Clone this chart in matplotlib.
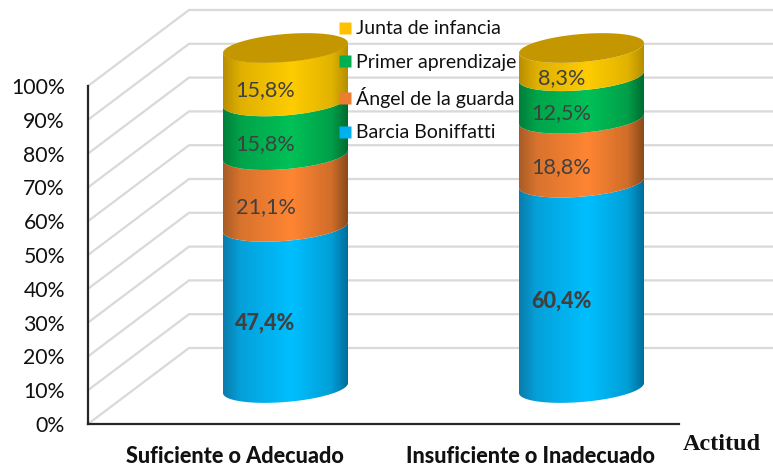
import numpy as np
import matplotlib
matplotlib.use("Agg")
import matplotlib.pyplot as plt
from matplotlib.colors import LinearSegmentedColormap, to_rgb
from matplotlib.lines import Line2D
from matplotlib.patches import Polygon

categories = ["Suficiente o Adecuado", "Insuficiente o Inadecuado"]
series_names = ["Barcia Boniffatti", "Ángel de la guarda", "Primer aprendizaje", "Junta de infancia"]
barcia = [47.4, 60.4]
angel = [21.1, 18.8]
primer = [15.8, 12.5]
junta = [15.8, 8.3]
series_values = [barcia, angel, primer, junta]
y_ticks = [0, 10, 20, 30, 40, 50, 60, 70, 80, 90, 100]

legend_colors = ["#00B0F0", "#ED7D31", "#00B050", "#FFC000"]
# left edge, middle, right edge of each cylinder band
shades = [("#0A7CAC", "#00BFFF", "#006E9A"),
          ("#A85C26", "#FF8533", "#8A4A1A"),
          ("#007F3A", "#00C157", "#006B31"),
          ("#B88E00", "#FFCC00", "#B58E00")]
lid_color = "#C49700"

W, H = 773, 472
fig = plt.figure(figsize=(W / 100, H / 100), dpi=100)
plt.rcParams["font.family"] = ["Lato", "DejaVu Sans"]

# back axes: the walls, real y axis
front_left, front_right, front_bottom, front_top = 88, 679, 424, 86
frame = fig.add_axes([front_left / W, 1 - front_bottom / H,
                      (front_right - front_left) / W, (front_bottom - front_top) / H])
frame.set_xlim(front_left, front_right)
frame.set_ylim(0, 100)
depth_x = 101
depth_y = 76 / 3.38
for v in y_ticks:
    frame.plot([front_left, front_left + depth_x, W], [v, v + depth_y, v + depth_y],
               color="#D9D9D9", lw=1.6, clip_on=False, zorder=1)
for s in ["top", "right"]:
    frame.spines[s].set_visible(False)
for s in ["left", "bottom"]:
    frame.spines[s].set_linewidth(1.6)
    frame.spines[s].set_color("#262626")
frame.set_yticks(y_ticks)
frame.set_yticklabels([f"{v}%" for v in y_ticks], fontsize=15.3, color="#111111")
frame.tick_params(axis="y", length=0, pad=16.6)
frame.set_xticks([234.5, 531])
frame.set_xticklabels(categories, fontsize=15.6, fontweight=900, color="#111111")
frame.tick_params(axis="x", length=0, pad=16)
frame.text(761, -6.2, "Actitud", family="Liberation Serif", fontweight="bold", fontsize=17.4,
           ha="right", va="center", color="#111111", clip_on=False)

# front axes: the cylinders, x in category units, y in percent
ax = fig.add_axes([0, 0, 1, 1])
ax.patch.set_alpha(0)
px_x = 296.0
px_y = 3.4
ax.set_xlim(-285.5 / px_x, (W - 285.5) / px_x)
ax.set_ylim((388 - H) / px_y, 388 / px_y)
ax.axis("off")

half_w = 62.5 / px_x
minor = 14 / px_y
tilt = 5 / px_y

def arc(cx, v, start, stop):
    t = np.linspace(start, stop, 80)
    return np.column_stack([cx + half_w * np.cos(t), v + minor * np.sin(t) + tilt * np.cos(t)])

def blend(c1, c2, f):
    return tuple((1 - f) * a + f * b for a, b in zip(to_rgb(c1), to_rgb(c2)))

for i in range(len(categories)):
    base = 0
    for j, vals in enumerate(series_values):
        top = base + vals[i]
        lower = arc(i, base, np.pi, 2 * np.pi)
        upper = arc(i, top, np.pi, 2 * np.pi)
        shape = Polygon(np.vstack([upper, lower[::-1]]), closed=True, fc="none", ec="none",
                        transform=ax.transData)
        ax.add_patch(shape)
        left, mid, right = shades[j]
        cmap = LinearSegmentedColormap.from_list("band", [(0, left), (0.14, blend(left, mid, 0.55)), (0.55, mid),
                                                          (0.87, blend(right, mid, 0.6)), (1, right)])
        img = ax.imshow(np.linspace(0, 1, 256)[None, :], cmap=cmap, aspect="auto", zorder=2 + j * 0.1,
                        extent=[i - half_w, i + half_w, base - minor - tilt, top + tilt])
        img.set_clip_path(shape)
        ax.annotate(f"{vals[i]:.1f}%".replace(".", ","), (i, base + vals[i] / 2), xytext=(-20, -16),
                    textcoords="offset pixels", ha="center", va="center", fontsize=15.6,
                    color="#404040", fontweight=900 if j == 0 else "normal", zorder=5)
        base = top
    ax.add_patch(Polygon(arc(i, 100, 0, 2 * np.pi), closed=True, fc=lid_color, ec="none", zorder=3))

ax.set_xlim(-285.5 / px_x, (W - 285.5) / px_x)
ax.set_ylim((388 - H) / px_y, 388 / px_y)

handles = [Line2D([], [], ls="none", marker="s", ms=8.6, mfc=c, mec="none") for c in legend_colors]
ax.legend(handles[::-1], series_names[::-1], loc="upper left", bbox_to_anchor=(335.3 / W, 1 - 20.5 / H),
          frameon=False, fontsize=14, labelcolor="#111111", handlelength=1.0, handletextpad=0.07,
          labelspacing=0.84, borderpad=0, borderaxespad=0)

fig.savefig("out.png", dpi=100)
